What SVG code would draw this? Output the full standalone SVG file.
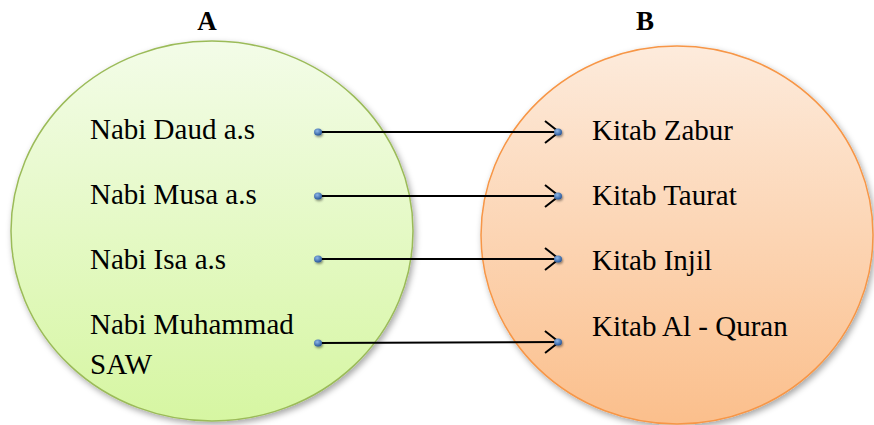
<svg xmlns="http://www.w3.org/2000/svg" width="874" height="425" viewBox="0 0 874 425">
<style>
text{font-family:"Liberation Serif","Times New Roman",serif;fill:#000}
.lbl{font-size:29px}
.ttl{font-size:27px;font-weight:bold}
.conn{stroke:#000;stroke-width:2;fill:none}
.dot{fill:url(#dotg);filter:url(#ds)}
</style>
<defs>
<linearGradient id="gA" x1="0" y1="0" x2="0" y2="1">
<stop offset="0" stop-color="#f3fce8"/>
<stop offset="1" stop-color="#d6f6a2"/>
</linearGradient>
<linearGradient id="gB" x1="0" y1="0" x2="0" y2="1">
<stop offset="0" stop-color="#fdebdc"/>
<stop offset="1" stop-color="#fbbf8c"/>
</linearGradient>
<radialGradient id="dotg" cx="0.4" cy="0.35" r="0.7">
<stop offset="0" stop-color="#8fb8e8"/>
<stop offset="1" stop-color="#1f4f94"/>
</radialGradient>
<filter id="shadow" x="-10%" y="-10%" width="125%" height="125%">
<feDropShadow dx="2" dy="3" stdDeviation="3" flood-color="#000" flood-opacity="0.35"/>
</filter>
<filter id="ds" x="-100%" y="-100%" width="300%" height="300%">
<feDropShadow dx="1" dy="1.5" stdDeviation="1.2" flood-color="#000" flood-opacity="0.45"/>
</filter>
<marker id="arr" viewBox="0 0 16 24" refX="15" refY="12" markerWidth="16" markerHeight="24" markerUnits="userSpaceOnUse" orient="auto">
<path d="M1,1 L15,12 L1,23" fill="none" stroke="#000" stroke-width="2"/>
</marker>
</defs>
<g id="setA">
<ellipse cx="212" cy="231" rx="201" ry="190" fill="url(#gA)" stroke="#9bbb59" stroke-width="1.5" filter="url(#shadow)"/>
<text class="ttl" x="207" y="30" text-anchor="middle">A</text>
</g>
<g id="setB">
<ellipse cx="677" cy="235" rx="196" ry="189" fill="url(#gB)" stroke="#f79646" stroke-width="1.5" filter="url(#shadow)"/>
<text class="ttl" x="645" y="30" text-anchor="middle">B</text>
</g>
<g id="a1"><text class="lbl" x="90" y="139">Nabi Daud a.s</text></g>
<g id="a2"><text class="lbl" x="90" y="204">Nabi Musa a.s</text></g>
<g id="a3"><text class="lbl" x="90" y="269">Nabi Isa a.s</text></g>
<g id="a4"><text class="lbl" x="90" y="334">Nabi Muhammad</text><text class="lbl" x="90" y="374">SAW</text></g>
<g id="b1"><text class="lbl" x="592" y="140">Kitab Zabur</text></g>
<g id="b2"><text class="lbl" x="592" y="205">Kitab Taurat</text></g>
<g id="b3"><text class="lbl" x="592" y="270">Kitab Injil</text></g>
<g id="b4"><text class="lbl" x="592" y="336">Kitab Al - Quran</text></g>
<g id="connectors">
<line class="conn" x1="318" y1="132" x2="559" y2="132" marker-end="url(#arr)"/>
<line class="conn" x1="318" y1="196" x2="559" y2="196" marker-end="url(#arr)"/>
<line class="conn" x1="318" y1="259" x2="559" y2="259" marker-end="url(#arr)"/>
<line class="conn" x1="318" y1="343" x2="559" y2="342" marker-end="url(#arr)"/>
<ellipse class="dot" cx="318" cy="132" rx="4" ry="3.5"/>
<ellipse class="dot" cx="318" cy="196" rx="4" ry="3.5"/>
<ellipse class="dot" cx="318" cy="259" rx="4" ry="3.5"/>
<ellipse class="dot" cx="318" cy="343" rx="4" ry="3.5"/>
<ellipse class="dot" cx="558" cy="132" rx="4" ry="3.5"/>
<ellipse class="dot" cx="558" cy="196" rx="4" ry="3.5"/>
<ellipse class="dot" cx="558" cy="259" rx="4" ry="3.5"/>
<ellipse class="dot" cx="558" cy="342" rx="4" ry="3.5"/>
</g>
</svg>
